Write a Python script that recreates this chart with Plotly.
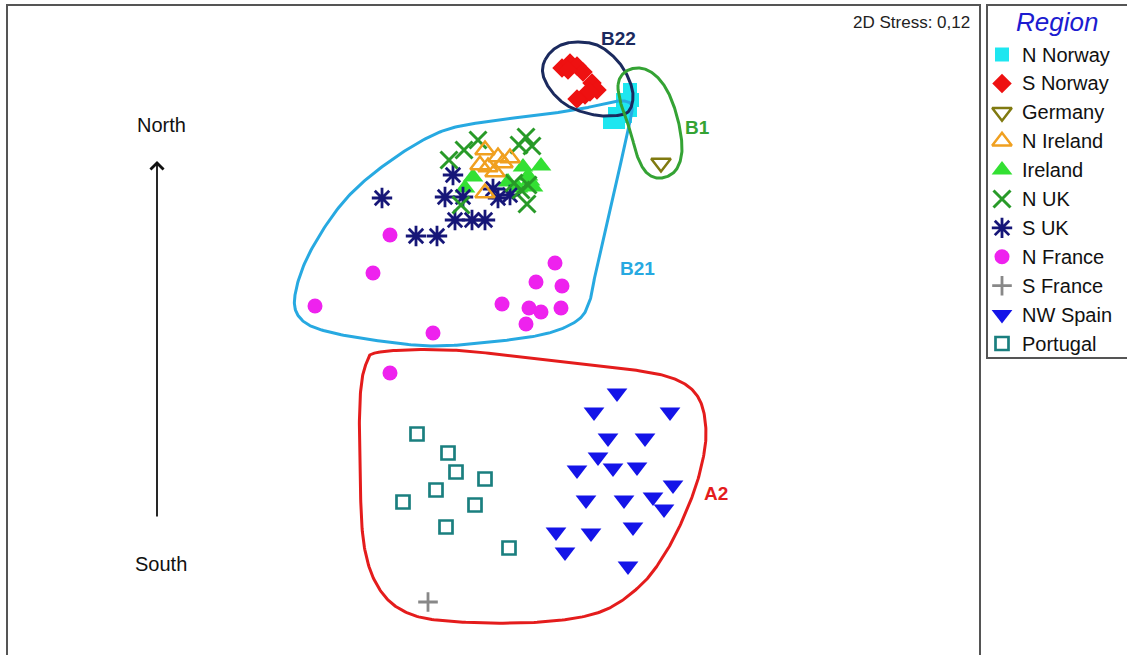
import numpy as np
import plotly.graph_objects as go

# nMDS ordination scores (dimension 1, dimension 2) per region
n_norway_x = [1.30, 1.32, 1.30, 1.25, 1.15, 1.10, 1.18, 1.23]
n_norway_y = [2.40, 2.30, 2.20, 2.14, 2.16, 2.08, 2.08, 2.30]

s_norway_x = [0.62, 0.70, 0.77, 0.83, 0.92, 0.97, 0.85, 0.77, 0.90, 0.68]
s_norway_y = [2.62, 2.67, 2.64, 2.58, 2.47, 2.40, 2.35, 2.31, 2.38, 2.60]

germany_x = [1.61]
germany_y = [1.67]

n_ireland_x = [-0.15, -0.02, 0.10, -0.12, -0.20, -0.05, 0.03, -0.15]
n_ireland_y = [1.80, 1.73, 1.72, 1.63, 1.65, 1.58, 1.67, 1.37]

ireland_x = [0.23, 0.41, 0.33, -0.27, -0.35, 0.08, 0.18, 0.30, 0.28]
ireland_y = [1.63, 1.64, 1.43, 1.53, 1.42, 1.48, 1.42, 1.49, 1.54]

n_uk_x = [-0.22, -0.36, -0.51, 0.26, 0.32, 0.19, 0.14, 0.28, 0.21, 0.27, -0.39]
n_uk_y = [1.90, 1.80, 1.70, 1.93, 1.84, 1.85, 1.47, 1.45, 1.40, 1.26, 1.25]

s_uk_x = [-1.18, -0.84, -0.63, -0.55, -0.37, -0.45, -0.28, -0.15, -0.47, -0.07, -0.02, 0.10]
s_uk_y = [1.32, 0.94, 0.94, 1.33, 1.33, 1.10, 1.10, 1.10, 1.55, 1.41, 1.32, 1.35]

n_france_x = [-1.10, -1.27, -1.85, -0.67, 0.55, 0.36, 0.62, 0.02, 0.29, 0.41, 0.61, 0.26, -1.10]
n_france_y = [0.95, 0.57, 0.24, -0.03, 0.67, 0.48, 0.44, 0.26, 0.22, 0.18, 0.22, 0.06, -0.43]

s_france_x = [-0.72]
s_france_y = [-2.72]

nw_spain_x = [1.17, 0.94, 1.70, 1.08, 1.45, 0.98, 1.13, 1.37, 0.77, 1.73,
              0.86, 1.24, 1.53, 1.64, 0.56, 0.91, 1.33, 0.65, 1.28]
nw_spain_y = [-0.63, -0.82, -0.82, -1.08, -1.08, -1.27, -1.38, -1.37, -1.40, -1.55,
              -1.70, -1.70, -1.67, -1.79, -2.02, -2.03, -1.97, -2.22, -2.36]

portugal_x = [-0.83, -0.52, -0.44, -0.15, -0.64, -0.97, -0.25, -0.54, 0.09]
portugal_y = [-1.04, -1.23, -1.42, -1.49, -1.60, -1.72, -1.75, -1.97, -2.18]

# cluster outlines (control points of closed smooth curves)
a2_x = [-1.20, -0.50, 0.30, 1.20, 1.72, 1.98, 2.06, 2.00, 1.86, 1.66,
        1.40, 1.00, 0.40, -0.40, -0.90, -1.20, -1.36, -1.40, -1.40, -1.34]
a2_y = [-0.22, -0.20, -0.28, -0.38, -0.48, -0.67, -1.02, -1.42, -1.82, -2.22,
        -2.56, -2.82, -2.92, -2.92, -2.84, -2.60, -2.15, -1.40, -0.70, -0.34]

b21_x = [-2.05, -1.90, -1.55, -1.10, -0.60, -0.10, 0.40, 0.80, 1.07, 1.24, 1.32,
         1.28, 1.18, 1.06, 0.96, 0.90, 0.78, 0.45, -0.10, -0.67, -1.20, -1.75, -2.00]
b21_y = [0.35, 0.78, 1.30, 1.69, 1.98, 2.09, 2.15, 2.21, 2.27, 2.29, 2.23,
         2.00, 1.55, 1.05, 0.60, 0.30, 0.10, -0.04, -0.12, -0.16, -0.11, -0.01, 0.12]

b22_x = [0.45, 0.57, 0.75, 0.97, 1.15, 1.27, 1.33, 1.28, 1.10, 0.90, 0.68, 0.52, 0.43]
b22_y = [2.70, 2.83, 2.88, 2.85, 2.72, 2.55, 2.35, 2.18, 2.14, 2.16, 2.24, 2.38, 2.55]

b1_x = [1.18, 1.25, 1.40, 1.55, 1.68, 1.78, 1.82, 1.76, 1.62, 1.48, 1.38, 1.30, 1.22]
b1_y = [2.45, 2.58, 2.62, 2.55, 2.38, 2.10, 1.80, 1.60, 1.52, 1.56, 1.72, 2.00, 2.22]

regions = ["N Norway", "S Norway", "Germany", "N Ireland", "Ireland", "N UK",
           "S UK", "N France", "S France", "NW Spain", "Portugal"]

data = {
    "N Norway": (n_norway_x, n_norway_y),
    "S Norway": (s_norway_x, s_norway_y),
    "Germany": (germany_x, germany_y),
    "N Ireland": (n_ireland_x, n_ireland_y),
    "Ireland": (ireland_x, ireland_y),
    "N UK": (n_uk_x, n_uk_y),
    "S UK": (s_uk_x, s_uk_y),
    "N France": (n_france_x, n_france_y),
    "S France": (s_france_x, s_france_y),
    "NW Spain": (nw_spain_x, nw_spain_y),
    "Portugal": (portugal_x, portugal_y),
}

styles = {
    "N Norway": dict(symbol="square", size=14, color="#1ee6f0"),
    "S Norway": dict(symbol="diamond", size=15, color="#ee1111"),
    "Germany": dict(symbol="triangle-down-open", size=17, color="#807a10",
                    line=dict(width=2.5, color="#807a10")),
    "N Ireland": dict(symbol="triangle-up-open", size=17, color="#f0a020",
                      line=dict(width=2.5, color="#f0a020")),
    "Ireland": dict(symbol="triangle-up", size=18, color="#33e033"),
    "N UK": dict(symbol="x-thin-open", size=17, color="#289a28",
                 line=dict(width=3, color="#289a28")),
    "S UK": dict(symbol="asterisk-open", size=17, color="#161678",
                 line=dict(width=2.8, color="#161678")),
    "N France": dict(symbol="circle", size=15, color="#ee22ee"),
    "S France": dict(symbol="cross-thin-open", size=14, color="#888888",
                     line=dict(width=2.8, color="#888888")),
    "NW Spain": dict(symbol="triangle-down", size=18, color="#1414e8"),
    "Portugal": dict(symbol="square-open", size=13, color="#1a7f7f",
                     line=dict(width=2.7, color="#1a7f7f")),
}

draw_order = ["N France", "Portugal", "NW Spain", "S France", "Ireland", "S UK",
              "N UK", "N Ireland", "Germany", "N Norway", "S Norway"]


def closed_spline(xs, ys, n=24):
    """Closed Catmull-Rom curve through the control points."""
    p = np.column_stack([xs, ys]).astype(float)
    m = len(p)
    out = []
    for i in range(m):
        p0, p1, p2, p3 = p[i - 1], p[i], p[(i + 1) % m], p[(i + 2) % m]
        for t in np.linspace(0, 1, n, endpoint=False):
            t2, t3 = t * t, t * t * t
            out.append(0.5 * (2 * p1 + (-p0 + p2) * t
                              + (2 * p0 - 5 * p1 + 4 * p2 - p3) * t2
                              + (-p0 + 3 * p1 - 3 * p2 + p3) * t3))
    out.append(out[0])
    out = np.array(out)
    return out[:, 0], out[:, 1]


fig = go.Figure()

for name in draw_order:
    xs, ys = data[name]
    fig.add_trace(go.Scatter(x=xs, y=ys, mode="markers", name=name,
                             marker=styles[name], showlegend=False,
                             hoverinfo="name"))

outlines = [
    (a2_x, a2_y, "#e41c1c"),
    (b21_x, b21_y, "#27a9e1"),
    (b22_x, b22_y, "#1b2a5e"),
    (b1_x, b1_y, "#34a334"),
]
for xs, ys, col in outlines:
    cx, cy = closed_spline(xs, ys)
    fig.add_trace(go.Scatter(x=cx, y=cy, mode="lines", showlegend=False,
                             line=dict(color=col, width=3), hoverinfo="skip"))

# legend panel (drawn by hand inside the bordered box on the right)
leg_x_marker = 5.02
leg_x_text = 5.20
leg_y0 = 2.755
leg_step = 0.289
for i, name in enumerate(regions):
    yy = leg_y0 - i * leg_step
    fig.add_trace(go.Scatter(x=[leg_x_marker], y=[yy], mode="markers",
                             marker=styles[name], showlegend=False,
                             hoverinfo="skip"))
    fig.add_annotation(x=leg_x_text, y=yy, text=name, showarrow=False,
                       xanchor="left", yanchor="middle",
                       font=dict(family="Liberation Sans, Arial", size=20,
                                 color="#111111"))

fig.add_annotation(x=5.57, y=3.08, text="<i>Region</i>", showarrow=False,
                   xanchor="center", yanchor="middle",
                   font=dict(family="Liberation Sans, Arial", size=26,
                             color="#1c1cd0"))

# cluster labels
cluster_labels = [
    ("B22", 1.18, 2.92, "#1b2a5e"),
    ("B1", 1.97, 2.03, "#34a334"),
    ("B21", 1.37, 0.62, "#27a9e1"),
    ("A2", 2.16, -1.63, "#e41c1c"),
]
for txt, lx, ly, col in cluster_labels:
    fig.add_annotation(x=lx, y=ly, text=f"<b>{txt}</b>", showarrow=False,
                       xanchor="center", yanchor="middle",
                       font=dict(family="Liberation Sans, Arial", size=19,
                                 color=col))

fig.add_annotation(x=4.72, y=3.08, text="2D Stress: 0,12", showarrow=False,
                   xanchor="right", yanchor="middle",
                   font=dict(family="Liberation Sans, Arial", size=17,
                             color="#222222"))

# north-south orientation arrow
fig.add_annotation(x=-3.43, y=1.69, ax=-3.43, ay=-1.88, xref="x", yref="y",
                   axref="x", ayref="y", text="", showarrow=True,
                   arrowhead=4, arrowsize=1.4, arrowwidth=1.8,
                   arrowcolor="#111111")
fig.add_annotation(x=-3.39, y=2.05, text="North", showarrow=False,
                   font=dict(family="Liberation Sans, Arial", size=20,
                             color="#111111"))
fig.add_annotation(x=-3.39, y=-2.34, text="South", showarrow=False,
                   font=dict(family="Liberation Sans, Arial", size=20,
                             color="#111111"))

# plot frame and legend frame
fig.add_shape(type="rect", xref="x", yref="y", x0=-4.93, x1=4.80,
              y0=-3.40, y1=3.25, line=dict(color="#555555", width=2),
              layer="above")
fig.add_shape(type="rect", xref="x", yref="y", x0=4.87, x1=6.40,
              y0=-0.28, y1=3.25, line=dict(color="#555555", width=2),
              layer="above")

fig.update_layout(
    width=1127, height=655,
    margin=dict(l=0, r=0, t=0, b=0),
    paper_bgcolor="white", plot_bgcolor="white",
    xaxis=dict(range=[-5.0, 6.27], visible=False, fixedrange=True),
    yaxis=dict(range=[-3.25, 3.30], visible=False, fixedrange=True),
    showlegend=False,
)

fig.write_html("out.html")
